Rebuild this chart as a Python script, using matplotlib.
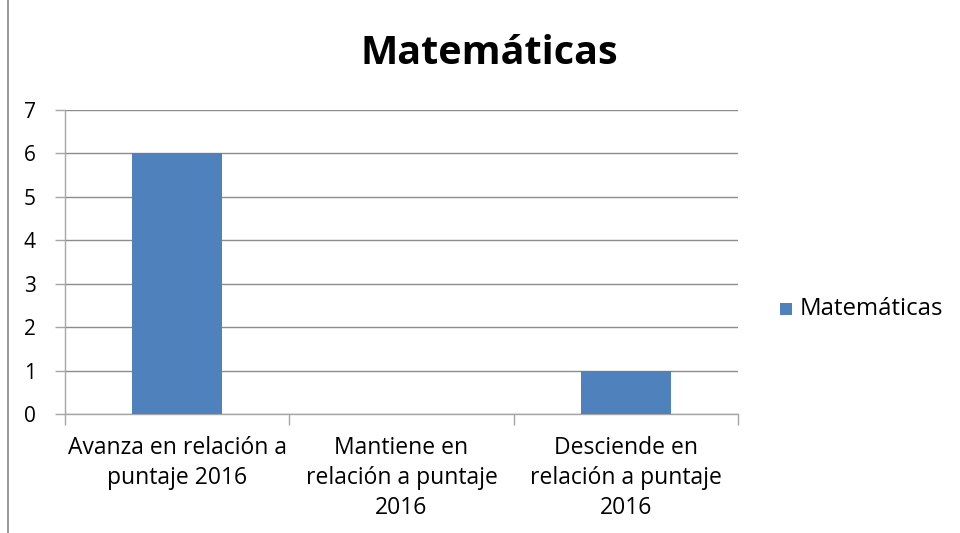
import matplotlib
matplotlib.use("Agg")
import matplotlib.pyplot as plt
from matplotlib.lines import Line2D
from matplotlib.patches import Rectangle

categories = ["Avanza en relación a\npuntaje 2016",
              "Mantiene en\nrelación a puntaje\n2016",
              "Desciende en\nrelación a puntaje\n2016"]
values = [6, 0, 1]
series_name = "Matemáticas"
yticks = [0, 1, 2, 3, 4, 5, 6, 7]

W, H = 960, 533
fig = plt.figure(figsize=(W / 100, H / 100), dpi=100)
fig.patch.set_facecolor("white")

left, right, top, bottom = 65, 738, 110, 414
ax = fig.add_axes([left / W, 1 - bottom / H, (right - left) / W, (bottom - top) / H])

grid_c = "#8C8C8C"
axis_c = "#A6A6A6"
bar_c = "#4F81BD"
fam = ["Open Sans", "DejaVu Sans"]
x = list(range(len(categories)))
ax.bar(x, values, width=0.4, color=bar_c, zorder=3)
ax.set_xlim(-0.5, len(categories) - 0.5)
ax.set_ylim(0, 7)
ax.set_yticks(yticks)
ax.set_yticklabels([str(t) for t in yticks], fontsize=15, fontfamily=fam)
ax.grid(axis="y", color=grid_c, linewidth=1, zorder=0)
for s in ["top", "right"]:
    ax.spines[s].set_visible(False)
for s in ["left", "bottom"]:
    ax.spines[s].set_color(axis_c)
    ax.spines[s].set_linewidth(1)
ax.tick_params(axis="y", length=7, color=axis_c, width=1, pad=14, labelcolor="black")

# category tick marks at boundaries
ax.set_xticks([i - 0.5 for i in range(len(categories) + 1)], minor=True)
ax.tick_params(axis="x", which="minor", length=8, color=axis_c, width=1)
ax.set_xticks(x)
ax.set_xticklabels(categories, fontsize=16.5, fontfamily=fam, linespacing=1.32)
ax.tick_params(axis="x", which="major", length=0, pad=16)

fig.text(489 / W, 1 - 53 / H, series_name, ha="center", va="center",
         fontsize=28.5, fontweight="bold", fontfamily=fam)

# legend
fig.patches.append(Rectangle((780 / W, 1 - 315 / H), 12 / W, 12 / H, transform=fig.transFigure,
                             facecolor=bar_c, edgecolor="none"))
fig.text(800 / W, 1 - 309 / H, series_name, ha="left", va="center", fontsize=17.3,
         fontfamily=fam)

# chart area border (left edge visible)
fig.add_artist(Line2D([8 / W, 8 / W], [0, 1], transform=fig.transFigure, color="#888888", linewidth=1.2))

fig.savefig("out.png", dpi=100, facecolor="white")
